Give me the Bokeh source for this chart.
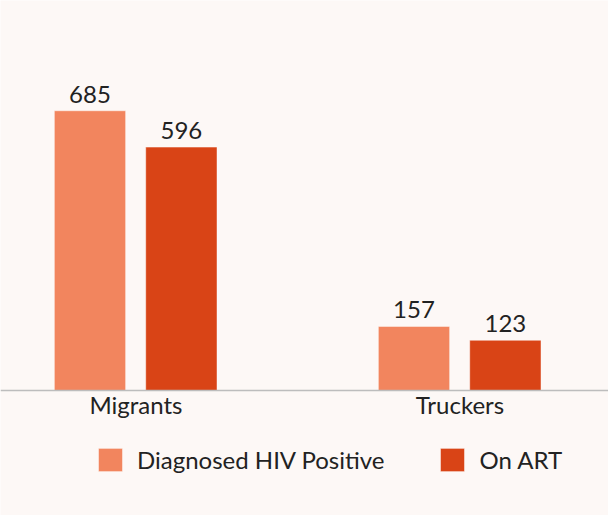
from bokeh.plotting import figure
from bokeh.models import Range1d, ColumnDataSource, FixedTicker
from bokeh.transform import dodge
from bokeh.core.properties import value
from bokeh.embed import file_html
from bokeh.resources import INLINE

categories = ["Migrants", "Truckers"]
diagnosed = [685, 157]
on_art = [596, 123]
series_names = ["Diagnosed HIV Positive", "On ART"]

PINK = "#F2855E"
RED = "#D94416"
BG = "#FDF8F6"
FONT = "Lato"
TXT = "#222222"

idx = list(range(len(categories)))
src = ColumnDataSource(dict(x=idx, d=diagnosed, a=on_art,
                            dl=[str(v) for v in diagnosed], al=[str(v) for v in on_art]))

p = figure(width=608, height=515, output_backend="svg", toolbar_location=None,
           x_range=Range1d(-0.4182, 1.4583), y_range=Range1d(-306, 955),
           min_border=0, background_fill_color=BG, border_fill_color=BG,
           outline_line_color=None)
p.grid.visible = False
p.yaxis.visible = False

w = 0.22
p.vbar(x=dodge("x", -0.142, range=p.x_range), top="d", width=w, source=src,
       fill_color=PINK, line_color="white", line_alpha=0.45, line_width=1,
       legend_label=series_names[0])
p.vbar(x=dodge("x", 0.14, range=p.x_range), top="a", width=w, source=src,
       fill_color=RED, line_color="white", line_alpha=0.45, line_width=1,
       legend_label=series_names[1])

p.text(x=dodge("x", -0.142, range=p.x_range), y="d", text="dl", source=src,
       text_align="center", text_baseline="bottom", y_offset=-8,
       text_font=value(FONT), text_font_size="24px", text_color=TXT)
p.text(x=dodge("x", 0.14, range=p.x_range), y="a", text="al", source=src,
       text_align="center", text_baseline="bottom", y_offset=-8,
       text_font=value(FONT), text_font_size="24px", text_color=TXT)

ax = p.xaxis[0]
ax.fixed_location = 0
ax.ticker = FixedTicker(ticks=idx)
ax.major_label_overrides = {i: c for i, c in zip(idx, categories)}
ax.major_tick_line_color = None
ax.minor_tick_line_color = None
ax.axis_line_color = "#BDBDBD"
ax.axis_line_width = 1.5
ax.major_label_text_font = FONT
ax.major_label_text_font_size = "24px"
ax.major_label_text_color = TXT
ax.major_label_standoff = -7

lg = p.legend[0]
lg.orientation = "horizontal"
lg.location = (95, 41)
lg.background_fill_alpha = 0
lg.border_line_color = None
lg.padding = 0
lg.margin = 0
lg.spacing = 53
lg.glyph_width = 30
lg.glyph_height = 29
lg.label_standoff = 12
lg.label_text_font = FONT
lg.label_text_font_size = "24px"
lg.label_text_color = TXT

open("out.html", "w").write(file_html(p, INLINE))
